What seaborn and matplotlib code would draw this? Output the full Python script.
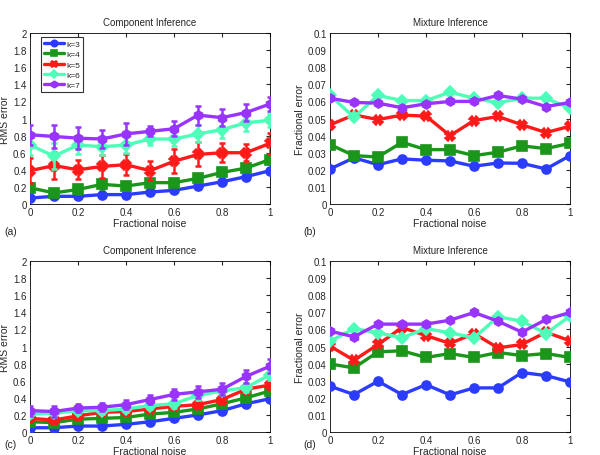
import numpy as np
import pandas as pd
import matplotlib
matplotlib.use("Agg")
import matplotlib.pyplot as plt
from matplotlib.ticker import FuncFormatter
import seaborn as sns

noise = [0, 0.1, 0.2, 0.3, 0.4, 0.5, 0.6, 0.7, 0.8, 0.9, 1.0]
ks = ["k=3", "k=4", "k=5", "k=6", "k=7"]

# panel (a) component inference, RMS error
comp_a = {
    "k=3": [0.07, 0.09, 0.09, 0.11, 0.11, 0.14, 0.16, 0.21, 0.26, 0.32, 0.39],
    "k=4": [0.19, 0.13, 0.17, 0.23, 0.21, 0.25, 0.25, 0.30, 0.37, 0.42, 0.52],
    "k=5": [0.39, 0.45, 0.40, 0.44, 0.46, 0.39, 0.50, 0.58, 0.60, 0.60, 0.71],
    "k=6": [0.69, 0.56, 0.69, 0.67, 0.69, 0.76, 0.76, 0.82, 0.87, 0.95, 0.98],
    "k=7": [0.81, 0.79, 0.77, 0.76, 0.82, 0.85, 0.88, 1.04, 1.01, 1.07, 1.17],
}
comp_a_err = {
    "k=3": [0.02, 0.02, 0.02, 0.03, 0.02, 0.02, 0.02, 0.03, 0.03, 0.02, 0.03],
    "k=4": [0.05, 0.04, 0.05, 0.06, 0.05, 0.04, 0.04, 0.04, 0.04, 0.03, 0.05],
    "k=5": [0.15, 0.16, 0.11, 0.13, 0.12, 0.11, 0.14, 0.14, 0.11, 0.10, 0.12],
    "k=6": [0.12, 0.15, 0.10, 0.10, 0.09, 0.07, 0.08, 0.10, 0.10, 0.10, 0.08],
    "k=7": [0.12, 0.14, 0.13, 0.11, 0.13, 0.06, 0.09, 0.11, 0.10, 0.10, 0.08],
}
# panel (b) mixture inference, fractional error
mix_b = {
    "k=3": [0.0205, 0.0270, 0.0230, 0.0264, 0.0256, 0.0252, 0.0221, 0.0240, 0.0238, 0.0205, 0.0283],
    "k=4": [0.0348, 0.0283, 0.0275, 0.0361, 0.0318, 0.0318, 0.0283, 0.0303, 0.0340, 0.0324, 0.0355],
    "k=5": [0.0463, 0.0521, 0.0494, 0.0520, 0.0514, 0.0400, 0.0488, 0.0512, 0.0463, 0.0418, 0.0455],
    "k=6": [0.0635, 0.0508, 0.0635, 0.0605, 0.0605, 0.0654, 0.0619, 0.0592, 0.0619, 0.0619, 0.0560],
    "k=7": [0.0619, 0.0594, 0.0590, 0.0563, 0.0586, 0.0600, 0.0600, 0.0635, 0.0613, 0.0570, 0.0594],
}
# panel (c) component inference, RMS error
comp_c = {
    "k=3": [0.05, 0.05, 0.07, 0.07, 0.09, 0.12, 0.16, 0.20, 0.25, 0.33, 0.39],
    "k=4": [0.12, 0.11, 0.15, 0.16, 0.17, 0.21, 0.23, 0.27, 0.33, 0.40, 0.48],
    "k=5": [0.16, 0.14, 0.19, 0.23, 0.24, 0.27, 0.30, 0.32, 0.38, 0.50, 0.55],
    "k=6": [0.21, 0.22, 0.25, 0.25, 0.27, 0.31, 0.33, 0.43, 0.48, 0.52, 0.67],
    "k=7": [0.25, 0.24, 0.28, 0.29, 0.32, 0.38, 0.44, 0.47, 0.50, 0.65, 0.77],
}
comp_c_err = {
    "k=3": [0.02, 0.02, 0.02, 0.02, 0.02, 0.02, 0.02, 0.02, 0.02, 0.02, 0.02],
    "k=4": [0.03, 0.03, 0.03, 0.03, 0.03, 0.03, 0.03, 0.03, 0.04, 0.04, 0.04],
    "k=5": [0.04, 0.04, 0.04, 0.04, 0.04, 0.04, 0.04, 0.04, 0.05, 0.05, 0.05],
    "k=6": [0.04, 0.04, 0.04, 0.04, 0.04, 0.04, 0.05, 0.05, 0.05, 0.05, 0.06],
    "k=7": [0.06, 0.06, 0.05, 0.05, 0.05, 0.05, 0.06, 0.07, 0.07, 0.08, 0.08],
}
# panel (d) mixture inference, fractional error
mix_d = {
    "k=3": [0.0268, 0.0219, 0.0297, 0.0219, 0.0277, 0.0217, 0.0258, 0.0258, 0.0348, 0.0330, 0.0293],
    "k=4": [0.0398, 0.0375, 0.0469, 0.0475, 0.0436, 0.0459, 0.0436, 0.0465, 0.0447, 0.0459, 0.0436],
    "k=5": [0.0502, 0.0420, 0.0512, 0.0611, 0.0564, 0.0518, 0.0576, 0.0492, 0.0512, 0.0584, 0.0533],
    "k=6": [0.0531, 0.0605, 0.0580, 0.0551, 0.0605, 0.0580, 0.0551, 0.0674, 0.0648, 0.0576, 0.0678],
    "k=7": [0.0590, 0.0557, 0.0631, 0.0631, 0.0631, 0.0654, 0.0699, 0.0648, 0.0584, 0.0658, 0.0699],
}

colors = {"k=3": "#2b3cff", "k=4": "#1a961a", "k=5": "#ff1a1a", "k=6": "#4dffb8", "k=7": "#9933ff"}
markers = {"k=3": "o", "k=4": "s", "k=5": "X", "k=6": "D", "k=7": "h"}

sns.set_style("white")
plt.rcParams["font.family"] = ["Liberation Sans", "DejaVu Sans"]
plt.rcParams["font.size"] = 7

fmt = FuncFormatter(lambda v, p: f"{v:g}")


def draw(ax, d, errs, title, ylabel, ymax, ystep, legend=False):
    for k in ks:
        df = pd.DataFrame({"noise": noise, "err": d[k]})
        sns.lineplot(data=df, x="noise", y="err", color=colors[k], marker=markers[k],
                     linestyle="-", linewidth=2.4, markersize=6.5,
                     markeredgecolor=colors[k], markeredgewidth=1.2,
                     label=k, legend=False, ax=ax, zorder=3)
        if errs is not None:
            ax.errorbar(noise, d[k], yerr=errs[k], fmt="none", ecolor=colors[k],
                        elinewidth=1.8, capsize=2.5, capthick=1.8, zorder=3)
    ax.set_xlim(0, 1)
    ax.set_ylim(0, ymax)
    ax.set_xticks(np.arange(0, 1.01, 0.2))
    ax.set_yticks(np.arange(0, ymax + ystep / 2, ystep))
    ax.xaxis.set_major_formatter(fmt)
    ax.yaxis.set_major_formatter(fmt)
    ax.tick_params(direction="in", top=True, right=True, length=3, labelsize=7, pad=2.5)
    for s in ax.spines.values():
        s.set_linewidth(0.6)
        s.set_color("black")
    ax.set_title(title, fontsize=7, pad=6)
    ax.set_xlabel("Fractional noise", fontsize=7.5, labelpad=0.5)
    ax.set_ylabel(ylabel, fontsize=7.5, labelpad=2)
    if legend:
        handles = [h for h in ax.get_lines() if h.get_label() in ks]
        leg = ax.legend(handles=handles, labels=ks, loc="upper left",
                        bbox_to_anchor=(0.035, 0.99), fontsize=6,
                        frameon=True, fancybox=False, edgecolor="black",
                        handlelength=2.4, borderpad=0.35, labelspacing=0.3,
                        handletextpad=0.3, markerscale=0.7, borderaxespad=0.3)
        leg.get_frame().set_linewidth(0.8)


fig = plt.figure(figsize=(6, 4.56), dpi=100)
ax_a = fig.add_axes([0.05, 0.5504, 0.40, 0.375])
ax_b = fig.add_axes([0.55, 0.5504, 0.40, 0.375])
ax_c = fig.add_axes([0.05, 0.0504, 0.40, 0.375])
ax_d = fig.add_axes([0.55, 0.0504, 0.40, 0.375])

draw(ax_a, comp_a, comp_a_err, "Component Inference", "RMS error", 2, 0.2, legend=True)
draw(ax_b, mix_b, None, "Mixture Inference", "Fractional error", 0.1, 0.01)
draw(ax_c, comp_c, comp_c_err, "Component Inference", "RMS error", 2, 0.2)
draw(ax_d, mix_d, None, "Mixture Inference", "Fractional error", 0.1, 0.01)

for lab, x, y in [("(a)", 0.008, 0.485), ("(b)", 0.505, 0.485),
                  ("(c)", 0.008, 0.018), ("(d)", 0.505, 0.018)]:
    fig.text(x, y, lab, fontsize=7.5)

fig.savefig("out.png", dpi=100)
